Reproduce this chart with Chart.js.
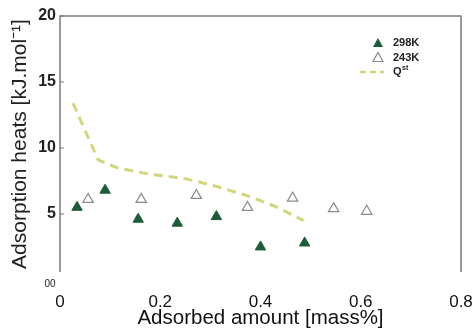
<!DOCTYPE html>
<html>
<head>
<meta charset="utf-8">
<script src="https://cdn.jsdelivr.net/npm/chart.js@4.4.1/dist/chart.umd.min.js"></script>
<style>
html,body{margin:0;padding:0;background:#fff;}
#wrap{width:473px;height:328px;position:relative;}
</style>
</head>
<body>
<div id="wrap"><canvas id="c" width="473" height="328"></canvas></div>
<script>
// ---- data ----
const seriesNames = ["298K", "243K", "Q"];
const x298 = [0.034, 0.09, 0.156, 0.234, 0.312, 0.40, 0.488];
const y298 = [5.5, 6.8, 4.6, 4.3, 4.8, 2.5, 2.8];
const x243 = [0.056, 0.162, 0.272, 0.374, 0.464, 0.546, 0.612];
const y243 = [6.1, 6.1, 6.4, 5.5, 6.2, 5.4, 5.2];
const xQst = [0.026, 0.076, 0.114, 0.18, 0.246, 0.28, 0.32, 0.38, 0.434, 0.486];
const yQst = [13.4, 9.1, 8.5, 8.0, 7.7, 7.4, 7.0, 6.3, 5.5, 4.5];
const xTicks = [0, 0.2, 0.4, 0.6, 0.8];
const yTicks = [5, 10, 15, 20];
const xTitle = "Adsorbed amount [mass%]";
const yTitle = "Adsorption heats [kJ.mol\u207B\u00B9]";
const strayLabel = "00";

const pts = (xs, ys) => xs.map((x, i) => ({x: x, y: ys[i]}));

const greenFill = "#1d5c38";
const openStroke = "#8a8a8a";
const qColor = "#d3d67c";

const framePlugin = {
  id: "frame",
  afterDatasetsDraw(chart) {
    const {ctx, chartArea: a} = chart;
    ctx.save();
    ctx.strokeStyle = "#7a7a7a";
    ctx.lineWidth = 1.5;
    ctx.beginPath();
    ctx.moveTo(a.left, a.bottom);
    ctx.lineTo(a.left, a.top);
    ctx.lineTo(a.right, a.top);
    ctx.lineTo(a.right, a.bottom);
    ctx.stroke();
    const ys = chart.scales.y;
    ctx.lineWidth = 1;
    yTicks.forEach(v => {
      const py = ys.getPixelForValue(v);
      ctx.beginPath();
      ctx.moveTo(a.left, py);
      ctx.lineTo(a.left + 4, py);
      ctx.stroke();
    });
    ctx.fillStyle = "#222";
    ctx.font = "10px 'Liberation Sans Narrow', 'Liberation Sans', Arial";
    ctx.textAlign = "center";
    ctx.textBaseline = "middle";
    ctx.fillText(strayLabel, a.left - 10, a.bottom + 12);
    ctx.restore();
  }
};

const legendPlugin = {
  id: "customLegend",
  afterDraw(chart) {
    const {ctx, chartArea: a} = chart;
    ctx.save();
    const mx = a.right - 83;
    const tx = a.right - 68;
    const y0 = a.top + 27;
    const dy = 14.5;
    ctx.font = "bold 11px 'Liberation Sans', Arial";
    ctx.textBaseline = "middle";
    ctx.textAlign = "left";
    let y = y0;
    ctx.fillStyle = greenFill;
    ctx.beginPath();
    ctx.moveTo(mx, y - 5); ctx.lineTo(mx + 5, y + 4); ctx.lineTo(mx - 5, y + 4); ctx.closePath();
    ctx.fill();
    ctx.fillStyle = "#222";
    ctx.fillText(seriesNames[0], tx, y);
    y = y0 + dy;
    ctx.strokeStyle = openStroke; ctx.lineWidth = 1.2;
    ctx.beginPath();
    ctx.moveTo(mx, y - 5); ctx.lineTo(mx + 5, y + 4); ctx.lineTo(mx - 5, y + 4); ctx.closePath();
    ctx.stroke();
    ctx.fillStyle = "#222";
    ctx.fillText(seriesNames[1], tx, y);
    y = y0 + 2 * dy;
    ctx.strokeStyle = qColor; ctx.lineWidth = 2.5;
    ctx.setLineDash([6, 4]);
    ctx.beginPath(); ctx.moveTo(mx - 18, y); ctx.lineTo(mx + 6, y); ctx.stroke();
    ctx.setLineDash([]);
    ctx.fillStyle = "#222";
    ctx.fillText(seriesNames[2], tx, y);
    const w = ctx.measureText(seriesNames[2]).width;
    ctx.font = "bold 7px 'Liberation Sans', Arial";
    ctx.fillText("st", tx + w + 0.5, y - 4);
    ctx.restore();
  }
};

new Chart(document.getElementById("c"), {
  type: "scatter",
  data: {
    datasets: [
      {
        label: "298K",
        data: pts(x298, y298),
        pointStyle: "triangle",
        pointRadius: 6,
        backgroundColor: greenFill,
        borderColor: greenFill,
        borderWidth: 1,
        showLine: false,
        order: 1
      },
      {
        label: "243K",
        data: pts(x243, y243),
        pointStyle: "triangle",
        pointRadius: 6,
        backgroundColor: "rgba(255,255,255,0)",
        borderColor: openStroke,
        borderWidth: 1.2,
        showLine: false,
        order: 2
      },
      {
        label: "Qst",
        data: pts(xQst, yQst),
        showLine: true,
        pointRadius: 0,
        borderColor: qColor,
        borderWidth: 3,
        borderDash: [9, 6],
        backgroundColor: qColor,
        tension: 0,
        order: 3
      }
    ]
  },
  options: {
    responsive: false,
    animation: false,
    devicePixelRatio: 1,
    layout: {padding: {left: 9, right: 12, top: 16, bottom: 0}},
    plugins: {legend: {display: false}, tooltip: {enabled: false}},
    scales: {
      x: {
        type: "linear",
        min: 0, max: 0.8,
        afterBuildTicks: s => { s.ticks = xTicks.map(v => ({value: v})); },
        afterFit: s => { s.height = 56; s.paddingRight = 0; s.paddingLeft = 0; },
        grid: {display: false, drawTicks: false},
        border: {display: false},
        ticks: {
          padding: 20,
          color: "#111",
          font: {family: "'Liberation Sans', Arial", size: 17},
          callback: v => String(v)
        },
        title: {
          display: true,
          text: xTitle,
          color: "#111",
          font: {family: "'Liberation Sans', Arial", size: 20.5},
          padding: {top: 0, bottom: -3}
        }
      },
      y: {
        type: "linear",
        min: 0.6, max: 20,
        afterBuildTicks: s => { s.ticks = yTicks.map(v => ({value: v})); },
        afterFit: s => { s.width = 51; },
        grid: {display: false, drawTicks: false},
        border: {display: false},
        ticks: {
          padding: 4,
          color: "#222",
          font: {family: "'Liberation Sans', Arial", size: 16, weight: "bold"},
          callback: v => String(v)
        },
        title: {
          display: true,
          text: yTitle,
          color: "#222",
          font: {family: "'Liberation Sans', Arial", size: 21},
          padding: {top: -1, bottom: 0}
        }
      }
    }
  },
  plugins: [framePlugin, legendPlugin]
});
</script>
</body>
</html>
